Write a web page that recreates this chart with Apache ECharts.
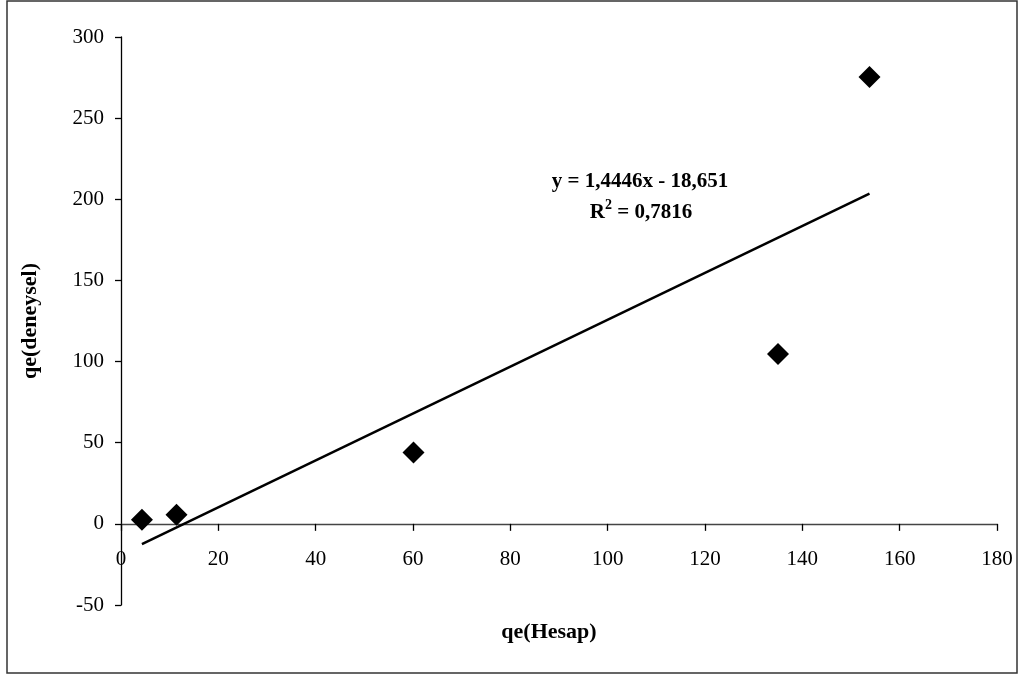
<!DOCTYPE html>
<html>
<head>
<meta charset="utf-8">
<script src="https://cdn.jsdelivr.net/npm/echarts@6/dist/echarts.min.js"></script>
<style>html,body{margin:0;padding:0;background:#fff}#c{width:1025px;height:675px}</style>
</head>
<body>
<div id="c"></div>
<script>
// Data
const qeHesap   = [4.3, 11.4, 60.1, 135.0, 153.8];
const qeDeneysel = [2.5, 5.6, 44.0, 104.7, 275.3];
// Trendline coefficients as printed on the chart
const slope = 1.4446;
const intercept = -18.651;
const equationText = 'y = 1,4446x - 18,651';
const r2Text = ' = 0,7816';
const xTicks = [0, 20, 40, 60, 80, 100, 120, 140, 160, 180];
const yTicks = [-50, 0, 50, 100, 150, 200, 250, 300];

const points = qeHesap.map((x, i) => [x, qeDeneysel[i]]);
const xMin = Math.min(...qeHesap), xMax = Math.max(...qeHesap);
const trend = [[xMin, slope * xMin + intercept], [xMax, slope * xMax + intercept]];

const FONT = '"Liberation Serif", "Times New Roman", serif';
const chart = echarts.init(document.getElementById('c'), null, {renderer: 'canvas'});
chart.setOption({
  backgroundColor: '#fff',
  animation: false,
  grid: {left: 121, top: 37, width: 876, height: 568, containLabel: false, outerBoundsMode: 'none'},
  xAxis: {
    type: 'value', min: xTicks[0], max: xTicks[xTicks.length - 1], interval: 20,
    name: 'qe(Hesap)', nameLocation: 'middle', nameGap: 16,
    nameTextStyle: {fontFamily: FONT, fontSize: 22, fontWeight: 'bold', color: '#000', padding: [0, 20, 0, 0]},
    axisLine: {onZero: true, lineStyle: {color: '#444', width: 1.3}},
    axisTick: {show: true, inside: false, length: 7, lineStyle: {color: '#000', width: 1.3}},
    axisLabel: {fontFamily: FONT, fontSize: 21, color: '#000', margin: -56, showMinLabel: true, showMaxLabel: true},
    splitLine: {show: false}
  },
  yAxis: {
    type: 'value', min: yTicks[0], max: yTicks[yTicks.length - 1], interval: 50,
    name: 'qe(deneysel)', nameLocation: 'middle', nameGap: 80, nameRotate: 90,
    nameTextStyle: {fontFamily: FONT, fontSize: 22, fontWeight: 'bold', color: '#000'},
    axisLine: {onZero: false, lineStyle: {color: '#000', width: 1.3}},
    axisTick: {show: true, inside: false, length: 6, lineStyle: {color: '#000', width: 1.3}},
    axisLabel: {fontFamily: FONT, fontSize: 21, color: '#000', margin: 17},
    splitLine: {show: false}
  },
  series: [
    {
      type: 'line', data: trend, symbol: 'none', silent: true,
      lineStyle: {color: '#000', width: 2.5}, z: 2
    },
    {
      type: 'scatter', data: points, symbol: 'diamond', symbolSize: 22,
      itemStyle: {color: '#000', opacity: 1}, z: 3
    }
  ],
  graphic: [
    {type: 'rect', shape: {x: 7, y: 1, width: 1010, height: 672},
     style: {fill: 'none', stroke: '#333', lineWidth: 1.5}, silent: true, z: -1},
    {type: 'text', x: 640, y: 182,
     style: {text: equationText, fontFamily: FONT, fontSize: 21, fontWeight: 'bold', fill: '#000',
             align: 'center', verticalAlign: 'middle'}},
    {type: 'text', x: 641, y: 213,
     style: {text: '{r|R}{s|2}{r|' + r2Text + '}', fontFamily: FONT, fontSize: 21, fontWeight: 'bold', fill: '#000',
             align: 'center', verticalAlign: 'middle',
             rich: {r: {fontFamily: FONT, fontSize: 21, fontWeight: 'bold', fill: '#000'},
                    s: {fontFamily: FONT, fontSize: 14, fontWeight: 'bold', fill: '#000', padding: [0, 0, 16, 0]}}}}
  ]
});
</script>
</body>
</html>
